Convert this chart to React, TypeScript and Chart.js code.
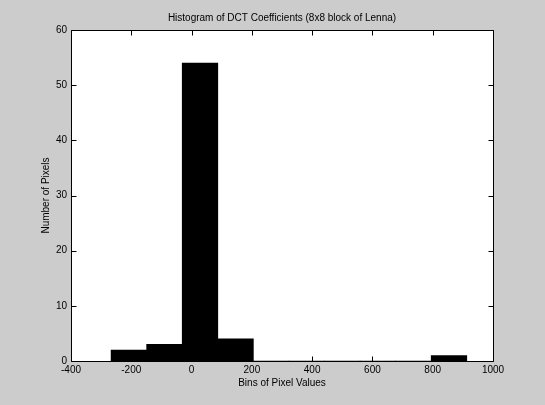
import React, { useEffect, useRef } from "react";
import { Chart, registerables } from "chart.js";

Chart.register(...registerables);

const titleText = "Histogram of DCT Coefficients (8x8 block of Lenna)";
const xLabel = "Bins of Pixel Values";
const yLabel = "Number of Pixels";
const binCenters = [-208, -90, 28, 146, 264, 382, 500, 618, 736, 854];
const counts = [2, 3, 54, 4, 0, 0, 0, 0, 0, 1];
const xRange = [-400, 1000];
const yRange = [0, 60];
const xStep = 200;
const yStep = 10;

const FONT = "'Liberation Sans', Arial, Helvetica, sans-serif";

const framePlugin = {
  id: "matlabFrame",
  beforeDraw(chart: any) {
    const { ctx, chartArea } = chart;
    ctx.save();
    ctx.fillStyle = "#ffffff";
    ctx.fillRect(chartArea.left, chartArea.top, chartArea.right - chartArea.left, chartArea.bottom - chartArea.top);
    ctx.restore();
  },
  afterDraw(chart: any) {
    const { ctx, chartArea } = chart;
    const L = Math.round(chartArea.left) + 0.5;
    const R = Math.round(chartArea.right) + 0.5;
    const T = Math.round(chartArea.top) + 0.5;
    const B = Math.round(chartArea.bottom) + 0.5;
    const tl = 5;
    ctx.save();
    ctx.strokeStyle = "#000000";
    ctx.lineWidth = 1;
    ctx.beginPath();
    ctx.rect(L, T, R - L, B - T);
    const xs = chart.scales.x;
    xs.ticks.forEach((t: any) => {
      const p = Math.round(xs.getPixelForValue(t.value)) + 0.5;
      ctx.moveTo(p, B);
      ctx.lineTo(p, B - tl);
      ctx.moveTo(p, T);
      ctx.lineTo(p, T + tl);
    });
    const ys = chart.scales.y;
    ys.ticks.forEach((t: any) => {
      const p = Math.round(ys.getPixelForValue(t.value)) + 0.5;
      ctx.moveTo(L, p);
      ctx.lineTo(L + tl, p);
      ctx.moveTo(R, p);
      ctx.lineTo(R - tl, p);
    });
    ctx.stroke();
    ctx.restore();
  },
};

export default function App() {
  const ref = useRef<HTMLCanvasElement | null>(null);

  useEffect(() => {
    if (!ref.current) return;
    Chart.defaults.font.family = FONT;
    const chart = new Chart(ref.current, {
      type: "bar",
      data: {
        datasets: [
          {
            data: binCenters.map((x, i) => ({ x, y: counts[i] })),
            backgroundColor: "#000000",
            borderWidth: 0,
            barPercentage: 1,
            categoryPercentage: 1,
          },
        ],
      },
      options: {
        animation: false,
        responsive: false,
        maintainAspectRatio: false,
        layout: { padding: { left: 0, right: 52, top: 0, bottom: 0 } },
        plugins: {
          legend: { display: false },
          tooltip: { enabled: false },
          title: {
            display: true,
            text: titleText,
            fullSize: false,
            color: "#000000",
            font: { size: 10, weight: "normal", family: FONT, lineHeight: 1.2 },
            padding: { top: 12, bottom: 6 },
          },
        },
        scales: {
          x: {
            type: "linear",
            min: xRange[0],
            max: xRange[1],
            offset: false,
            grid: { display: false, drawTicks: false, offset: false },
            border: { display: false },
            ticks: {
              stepSize: xStep,
              autoSkip: false,
              maxRotation: 0,
              minRotation: 0,
              padding: 3,
              color: "#000000",
              font: { size: 10, family: FONT },
              callback: (v: any) => String(v),
            },
            title: {
              display: true,
              text: xLabel,
              color: "#000000",
              font: { size: 10, family: FONT, lineHeight: 1.2 },
              padding: { top: 0, bottom: 16 },
            },
            afterFit: (s: any) => {
              s.height = 44;
            },
          },
          y: {
            type: "linear",
            min: yRange[0],
            max: yRange[1],
            grid: { display: false, drawTicks: false },
            border: { display: false },
            ticks: {
              stepSize: yStep,
              padding: 4,
              color: "#000000",
              font: { size: 10, family: FONT },
              callback: (v: any) => String(v),
            },
            title: {
              display: true,
              text: yLabel,
              color: "#000000",
              font: { size: 10, family: FONT, lineHeight: 1.2 },
              padding: { top: 40, bottom: 0 },
            },
            afterFit: (s: any) => {
              s.width = 71;
            },
          },
        },
      },
      plugins: [framePlugin],
    });
    return () => chart.destroy();
  }, []);

  return (
    <div style={{ position: "fixed", left: 0, top: 0, width: 545, height: 405, background: "#cccccc" }}>
      <canvas ref={ref} width={545} height={405} style={{ display: "block", width: 545, height: 405 }} />
    </div>
  );
}
